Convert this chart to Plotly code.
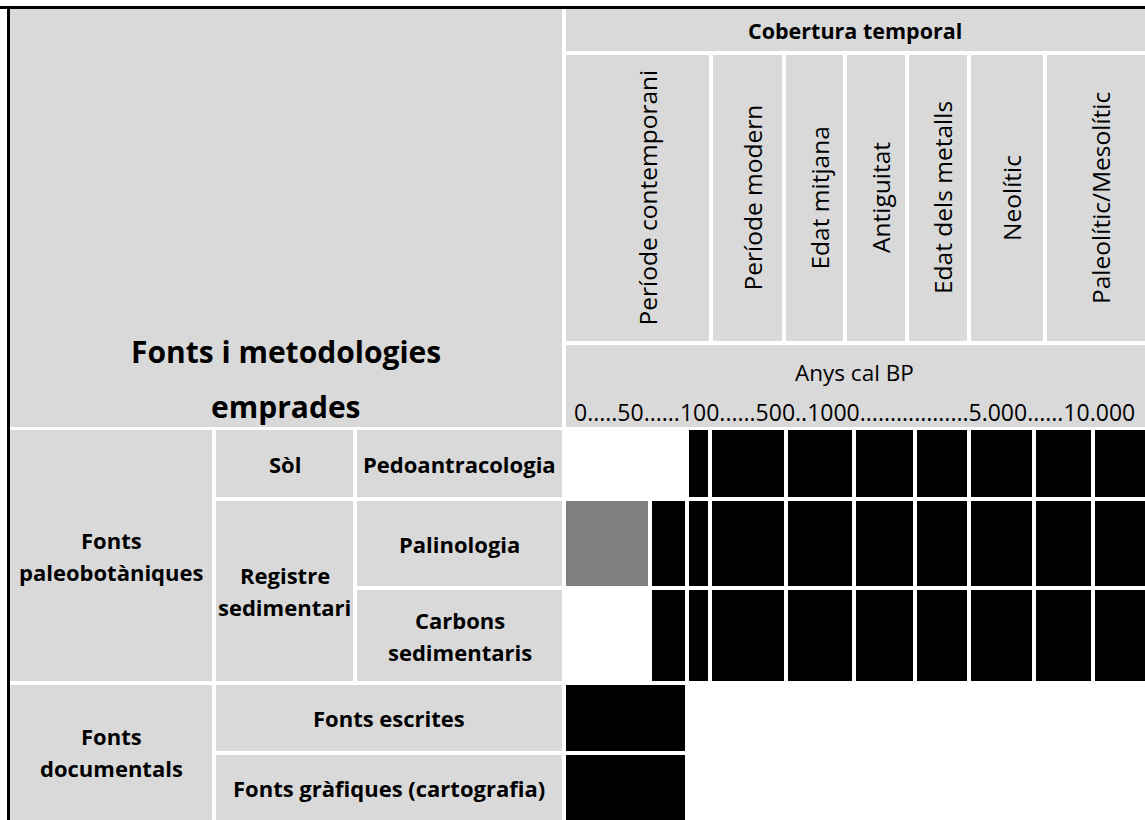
import plotly.graph_objects as go

# --- data -------------------------------------------------------------
title_lines = ["Fonts i metodologies", "emprades"]
header_top = "Cobertura temporal"
periods = ["Període contemporani", "Període modern", "Edat mitjana", "Antiguitat",
           "Edat dels metalls", "Neolític", "Paleolític/Mesolític"]
scale_title = "Anys cal BP"
scale_ticks = "0.....50......100......500..1000..................5.000......10.000"

groups = [["Fonts", "paleobotàniques"], ["Fonts", "documentals"]]
sources = [["Sòl"], ["Registre", "sedimentari"]]
methods = [["Pedoantracologia"], ["Palinologia"], ["Carbons", "sedimentaris"]]
documents = [["Fonts escrites"], ["Fonts gràfiques (cartografia)"]]

# coverage per time bin: 0 = no data, 1 = partial, 2 = full
coverage_methods = [
    [0, 0, 2, 2, 2, 2, 2, 2, 2, 2],
    [1, 2, 2, 2, 2, 2, 2, 2, 2, 2],
    [0, 2, 2, 2, 2, 2, 2, 2, 2, 2],
]
coverage_documents = [
    [2],
    [2],
]

# --- layout (pixels) --------------------------------------------------
W, H = 1145, 820
GAP = 4
GREY = "#D9D9D9"
FONT = "Open Sans, Carlito, Calibri, sans-serif"

left_cols = [8, 214, 355, 564]
header_rows = [7, 53, 343, 429]
period_edges = [564, 711, 784, 845, 907, 969, 1045, 1150]
bin_edges = [564, 650, 687, 709.5, 785.5, 854, 915, 969, 1034, 1093, 1150]
doc_bin_edges = [564, 687]
row_edges = [428, 499, 588, 683, 753, 824]

fig = go.Figure()
shapes = []
annotations = []


def cell(x0, x1, y0, y1):
    shapes.append(dict(type="rect", xref="x", yref="y",
                       x0=x0 + GAP / 2, x1=x1 - GAP / 2,
                       y0=y0 + GAP / 2, y1=y1 - GAP / 2,
                       fillcolor=GREY, line_width=0, layer="below"))


def label(x, yc, lines, size=22, bold=True, step=32, angle=0):
    n = len(lines)
    for i, t in enumerate(lines):
        y = yc + (i - (n - 1) / 2) * step
        annotations.append(dict(x=x, y=y, xref="x", yref="y", text=t,
                                showarrow=False, textangle=angle,
                                xanchor="center", yanchor="middle",
                                font=dict(family=FONT, size=size, color="black",
                                          weight="bold" if bold else "normal")))


# header, left block
cell(left_cols[0], left_cols[3], header_rows[0], header_rows[3])
label((left_cols[0] + left_cols[3]) / 2, 379, title_lines, size=30, step=55)

# header, right block
cell(period_edges[0], period_edges[-1], header_rows[0], header_rows[1])
label((period_edges[0] + W) / 2, (header_rows[0] + header_rows[1]) / 2,
      [header_top], size=21.5)
for i, p in enumerate(periods):
    x0, x1 = period_edges[i], period_edges[i + 1]
    cell(x0, x1, header_rows[1], header_rows[2])
    xc = (x0 + min(x1, W + 2)) / 2
    shift = 9 if i == 0 else 4
    label(xc + shift, (header_rows[1] + header_rows[2]) / 2, [p], size=24.5,
          bold=False, angle=-90)
cell(period_edges[0], period_edges[-1], header_rows[2], header_rows[3])
label((period_edges[0] + W) / 2, 372, [scale_title], size=22.5, bold=False)
label((period_edges[0] + W) / 2, 412, [scale_ticks], size=23, bold=False)

# row labels
c1 = (left_cols[0] + left_cols[1]) / 2
c2 = (left_cols[1] + left_cols[2]) / 2
c3 = (left_cols[2] + left_cols[3]) / 2
c23 = (left_cols[1] + left_cols[3]) / 2

cell(left_cols[0], left_cols[1], row_edges[0], row_edges[3])
label(c1, (row_edges[0] + row_edges[3]) / 2, groups[0])
cell(left_cols[0], left_cols[1], row_edges[3], row_edges[5])
label(c1, (row_edges[3] + 820) / 2, groups[1])

cell(left_cols[1], left_cols[2], row_edges[0], row_edges[1])
label(c2, (row_edges[0] + row_edges[1]) / 2, sources[0])
cell(left_cols[1], left_cols[2], row_edges[1], row_edges[3])
label(c2, (row_edges[1] + row_edges[3]) / 2, sources[1])

for i, m in enumerate(methods):
    cell(left_cols[2], left_cols[3], row_edges[i], row_edges[i + 1])
    label(c3, (row_edges[i] + row_edges[i + 1]) / 2, m)

for i, d in enumerate(documents):
    cell(left_cols[1], left_cols[3], row_edges[3 + i], row_edges[4 + i])
    yb = min(row_edges[4 + i], 822)
    label(c23, (row_edges[3 + i] + yb) / 2, d)

# coverage grid
scale = [[0, "#FFFFFF"], [0.5, "#7F7F7F"], [1, "#000000"]]
fig.add_trace(go.Heatmap(x=bin_edges, y=row_edges[:4], z=coverage_methods,
                         zmin=0, zmax=2, colorscale=scale, showscale=False,
                         xgap=GAP, ygap=GAP, hoverinfo="skip"))
fig.add_trace(go.Heatmap(x=doc_bin_edges, y=row_edges[3:], z=coverage_documents,
                         zmin=0, zmax=2, colorscale=scale, showscale=False,
                         xgap=GAP, ygap=GAP, hoverinfo="skip"))

# outer border (top and left)
shapes.append(dict(type="line", xref="x", yref="y", x0=0, x1=W, y0=7.5, y1=7.5,
                   line=dict(color="black", width=3)))
shapes.append(dict(type="line", xref="x", yref="y", x0=8.5, x1=8.5, y0=6, y1=H,
                   line=dict(color="black", width=3)))

fig.update_layout(
    width=W, height=H,
    margin=dict(l=0, r=0, t=0, b=0),
    paper_bgcolor="white", plot_bgcolor="white",
    xaxis=dict(range=[0, W], visible=False, fixedrange=True),
    yaxis=dict(range=[H, 0], visible=False, fixedrange=True),
    shapes=shapes, annotations=annotations,
    showlegend=False,
)

fig.write_html("out.html", config={"displayModeBar": False},
               post_script="document.body.style.margin='0';")
